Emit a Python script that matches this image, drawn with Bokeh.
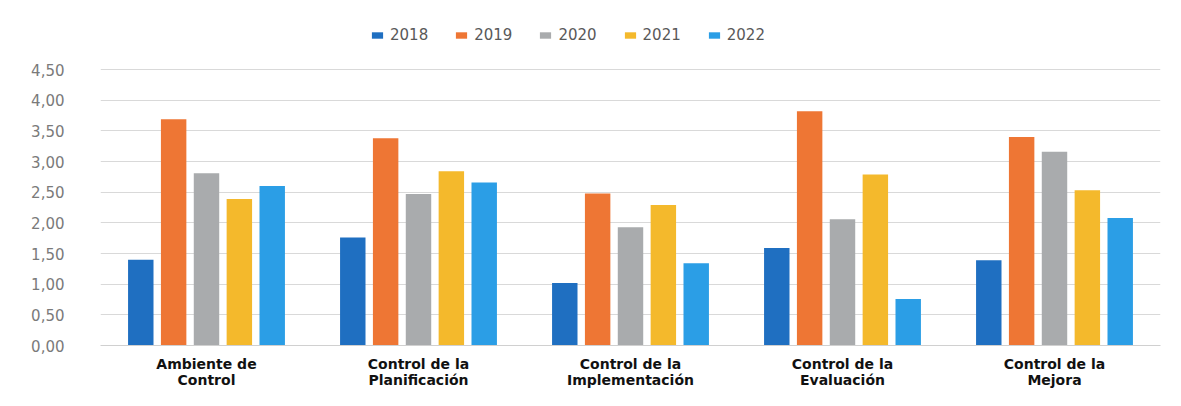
from bokeh.plotting import figure
from bokeh.models import ColumnDataSource, FactorRange, Range1d, FixedTicker, Legend, LegendItem
from bokeh.transform import dodge
from bokeh.embed import file_html
from bokeh.resources import INLINE

categories = ["Ambiente de\nControl", "Control de la\nPlanificación", "Control de la\nImplementación",
              "Control de la\nEvaluación", "Control de la\nMejora"]
years = ["2018", "2019", "2020", "2021", "2022"]
v2018 = [1.40, 1.76, 1.02, 1.59, 1.39]
v2019 = [3.69, 3.38, 2.48, 3.82, 3.40]
v2020 = [2.81, 2.47, 1.93, 2.06, 3.16]
v2021 = [2.39, 2.84, 2.29, 2.79, 2.53]
v2022 = [2.60, 2.66, 1.34, 0.76, 2.08]
y_ticks = [0, 0.5, 1.0, 1.5, 2.0, 2.5, 3.0, 3.5, 4.0, 4.5]
y_tick_labels = ["0,00", "0,50", "1,00", "1,50", "2,00", "2,50", "3,00", "3,50", "4,00", "4,50"]

colors = ["#1f6fc1", "#ee7634", "#a9abad", "#f4b92c", "#2b9ee6"]
offsets = [-0.31, -0.155, 0.0, 0.155, 0.31]

src = ColumnDataSource(dict(cat=categories, y2018=v2018, y2019=v2019, y2020=v2020,
                            y2021=v2021, y2022=v2022))

p = figure(x_range=FactorRange(*categories), y_range=Range1d(0, 5.30),
           width=1165, height=390, output_backend="svg", toolbar_location=None,
           min_border_left=100, min_border_right=5, min_border_top=20, min_border_bottom=0)
p.x_range.range_padding = 0
p.outline_line_color = None
p.background_fill_color = "white"

renderers = []
for yr, col, off in zip(years, colors, offsets):
    r = p.vbar(x=dodge("cat", off, range=p.x_range), top="y" + yr, width=0.12,
               source=src, fill_color=col, line_color=None)
    renderers.append(r)

p.xgrid.grid_line_color = None
p.ygrid.grid_line_color = "#d9d9d9"
p.ygrid.grid_line_width = 1

p.yaxis.ticker = FixedTicker(ticks=y_ticks)
p.yaxis.major_label_overrides = {t: l for t, l in zip(y_ticks, y_tick_labels)}
p.yaxis.axis_line_color = None
p.yaxis.major_tick_line_color = None
p.yaxis.minor_tick_line_color = None
p.yaxis.major_label_standoff = 30
p.yaxis.major_label_text_font = "DejaVu Sans"
p.yaxis.major_label_text_font_size = "15px"
p.yaxis.major_label_text_color = "#7a7a7a"

p.xaxis.axis_line_color = "#d0d0d0"
p.xaxis.major_tick_line_color = None
p.xaxis.minor_tick_line_color = None
p.xaxis.major_label_standoff = 4
p.xaxis.major_label_text_font = "DejaVu Sans"
p.xaxis.major_label_text_font_style = "bold"
p.xaxis.major_label_text_font_size = "14px"
p.xaxis.major_label_text_line_height = 1.0
p.xaxis.major_label_text_color = "#111111"

legend = Legend(items=[LegendItem(label=yr, renderers=[r]) for yr, r in zip(years, renderers)],
                orientation="horizontal", location=(270, 300))
legend.border_line_color = None
legend.background_fill_alpha = 0
legend.padding = 0
legend.margin = 0
legend.spacing = 26
legend.glyph_width = 14
legend.glyph_height = 8
legend.label_standoff = 6
legend.label_height = 20
legend.label_text_font = "DejaVu Sans"
legend.label_text_font_size = "15px"
legend.label_text_color = "#595959"
p.add_layout(legend, "center")

open("out.html", "w").write(file_html(p, INLINE))
